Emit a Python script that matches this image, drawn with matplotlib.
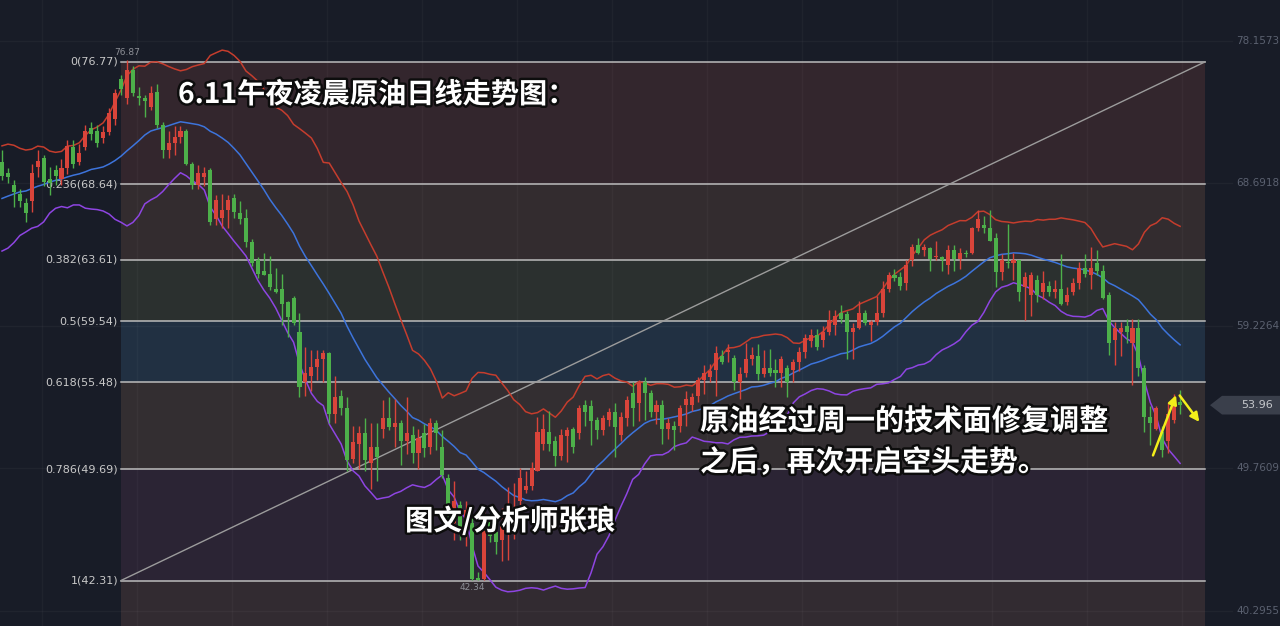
import numpy as np
import pandas as pd
import matplotlib
matplotlib.use("Agg")
import matplotlib.pyplot as plt
import matplotlib.patheffects as pe

plt.rcParams['font.family'] = ['Noto Sans CJK SC', 'DejaVu Sans']

# daily candles, oldest first
opens = [70.1, 69.4, 68.6, 68.0, 67.4, 67.5, 69.8, 70.4, 69.0, 69.6,
         69.0, 69.7, 71.1, 70.1, 71.1, 72.4, 72.2, 71.7, 72.1, 73.0,
         75.6, 74.4, 76.2, 74.5, 74.4, 73.8, 74.8, 72.6, 70.9, 71.4,
         71.8, 72.2, 70.0, 68.6, 69.1, 69.6, 66.3, 66.4, 66.9, 67.7,
         66.7, 66.4, 64.8, 63.6, 62.9, 62.7, 61.7, 61.7, 60.8, 61.1,
         58.8, 55.5, 55.9, 56.5, 57.0, 57.4, 53.4, 54.6, 53.8, 50.4,
         51.4, 52.1, 50.1, 51.2, 52.4, 53.1, 52.5, 52.8, 51.6, 52.0,
         50.8, 52.1, 51.2, 52.8, 51.2, 49.1, 46.1, 47.3, 45.7, 46.1,
         42.5, 42.4, 46.3, 45.5, 45.0, 45.5, 46.3, 47.6, 48.3, 48.6,
         49.6, 51.4, 52.2, 51.6, 50.6, 51.9, 52.4, 52.1, 54.0, 53.9,
         53.0, 52.3, 53.0, 53.5, 52.0, 53.1, 54.8, 54.1, 55.5, 54.8,
         53.5, 54.0, 52.4, 52.6, 52.6, 54.0, 54.0, 54.6, 55.6, 55.8,
         56.3, 57.2, 57.5, 57.1, 55.5, 56.1, 57.0, 57.2, 56.0, 56.4,
         56.3, 56.1, 56.4, 56.3, 56.8, 57.5, 58.2, 58.6, 58.3, 58.8,
         59.3, 60.1, 60.0, 58.8, 59.1, 60.1, 59.3, 59.5, 60.1, 61.7,
         62.6, 62.5, 62.1, 63.6, 64.6, 64.3, 64.4, 63.8, 63.8, 63.3,
         64.3, 63.7, 64.1, 64.1, 65.7, 65.9, 65.7, 65.1, 62.8, 63.5,
         63.4, 63.6, 61.8, 61.3, 62.3, 61.5, 61.9, 61.5, 61.7, 60.8,
         61.5, 62.1, 63.1, 62.6, 63.4, 62.9, 61.3, 58.3, 58.8, 59.2,
         58.1, 59.1, 56.4, 53.2, 52.4, 52.2, 51.6, 53.0, 54.2]
highs = [70.9, 69.7, 68.9, 68.3, 67.7, 70.0, 70.9, 70.6, 69.8, 69.9,
         70.3, 71.6, 71.6, 71.3, 72.6, 72.8, 72.6, 72.5, 73.7, 75.0,
         75.9, 76.87, 76.5, 75.1, 74.6, 75.2, 75.3, 72.8, 72.2, 72.5,
         72.5, 72.3, 70.1, 69.9, 69.8, 69.7, 67.9, 68.0, 67.9, 68.0,
         67.5, 67.0, 65.0, 63.8, 64.1, 63.9, 63.1, 62.7, 60.9, 61.2,
         60.1, 57.8, 57.6, 57.6, 57.6, 57.5, 55.9, 55.0, 54.5, 52.6,
         52.6, 53.1, 52.8, 52.8, 54.3, 54.5, 54.4, 53.0, 54.5, 52.6,
         52.4, 52.7, 53.1, 53.0, 52.3, 49.4, 48.9, 47.6, 47.6, 46.5,
         42.9, 47.0, 46.8, 45.6, 47.1, 48.5, 48.8, 49.8, 49.6, 50.2,
         53.2, 53.4, 53.6, 51.9, 52.4, 52.5, 52.5, 54.0, 54.3, 54.3,
         53.2, 53.3, 53.8, 54.1, 53.5, 54.6, 55.5, 55.6, 55.8, 55.0,
         54.3, 54.3, 53.1, 52.9, 54.0, 54.9, 54.8, 55.8, 56.6, 56.7,
         57.9, 57.6, 58.0, 57.3, 56.5, 58.1, 57.8, 58.0, 57.6, 57.7,
         57.0, 57.2, 56.6, 57.0, 57.8, 58.7, 59.0, 59.0, 59.2, 60.3,
         60.3, 60.6, 60.2, 59.4, 60.9, 60.3, 59.6, 61.2, 62.2, 62.8,
         63.0, 62.8, 63.6, 64.7, 65.1, 64.7, 64.5, 64.9, 63.9, 64.6,
         64.6, 64.4, 64.3, 65.8, 66.9, 66.5, 66.9, 65.4, 64.0, 66.0,
         64.1, 63.6, 62.8, 62.8, 62.6, 62.9, 62.2, 62.3, 64.0, 61.8,
         62.4, 63.5, 64.0, 64.5, 64.3, 63.3, 61.5, 59.5, 59.5, 59.7,
         59.7, 59.7, 56.6, 53.9, 53.9, 52.6, 54.1, 54.7, 55.0]
lows = [68.9, 68.7, 67.1, 67.1, 66.1, 66.8, 69.1, 68.5, 67.9, 68.6,
        68.6, 69.3, 69.7, 69.9, 70.9, 71.6, 71.1, 71.4, 71.9, 72.6,
        74.6, 74.0, 74.5, 73.9, 73.1, 73.6, 72.4, 70.4, 70.4, 70.6,
        71.4, 69.9, 68.3, 68.3, 68.5, 65.9, 65.9, 65.7, 65.7, 66.4,
        66.0, 64.5, 63.2, 62.4, 62.6, 61.6, 61.4, 59.3, 58.5, 59.3,
        54.5, 54.6, 54.9, 55.6, 55.5, 52.8, 52.8, 53.3, 49.6, 50.1,
        49.7, 49.6, 48.4, 48.9, 51.8, 52.3, 51.2, 50.0, 50.7, 50.1,
        49.7, 50.5, 50.7, 51.0, 49.1, 45.8, 45.0, 45.0, 44.6, 42.34,
        42.34, 42.34, 44.9, 44.1, 43.6, 43.7, 45.1, 46.8, 48.1, 48.3,
        49.6, 51.0, 50.9, 49.9, 50.3, 50.2, 50.8, 51.7, 52.6, 51.3,
        51.7, 52.0, 52.6, 50.5, 51.6, 52.6, 52.6, 52.9, 53.0, 53.2,
        52.7, 51.4, 51.7, 51.0, 52.2, 52.6, 53.6, 54.2, 54.7, 55.5,
        54.6, 56.7, 56.8, 55.0, 54.4, 55.8, 56.6, 55.6, 55.8, 55.9,
        55.2, 55.2, 54.5, 55.5, 56.2, 57.1, 57.8, 57.6, 57.8, 58.6,
        58.6, 59.4, 57.0, 57.0, 59.0, 59.3, 58.2, 59.3, 59.8, 61.5,
        62.2, 61.6, 61.6, 63.2, 64.0, 63.9, 62.9, 63.6, 62.9, 62.7,
        62.9, 63.0, 63.8, 64.0, 65.5, 65.4, 64.9, 61.8, 62.3, 63.1,
        62.3, 60.9, 59.6, 59.9, 60.8, 61.0, 61.2, 61.1, 60.6, 60.6,
        61.3, 61.7, 62.5, 61.7, 62.6, 61.0, 57.3, 56.6, 57.2, 58.1,
        55.3, 55.9, 52.2, 51.3, 52.3, 50.5, 50.8, 52.8, 53.4]
closes = [69.2, 69.1, 68.1, 67.5, 66.7, 69.4, 70.2, 68.8, 68.7, 69.2,
          69.7, 71.2, 70.0, 70.7, 72.2, 72.0, 71.4, 72.1, 73.4, 74.7,
          75.0, 76.2, 74.7, 74.4, 74.2, 74.7, 72.6, 70.9, 71.4, 71.8,
          72.2, 70.0, 68.6, 69.4, 69.4, 66.1, 67.6, 66.9, 67.6, 66.8,
          66.3, 64.8, 63.4, 62.7, 62.6, 61.8, 61.5, 60.7, 59.8, 59.4,
          55.2, 56.1, 56.5, 57.0, 57.4, 53.4, 54.5, 53.8, 50.3, 51.5,
          52.1, 50.3, 51.2, 50.5, 53.1, 52.5, 52.8, 51.6, 52.1, 50.8,
          51.8, 51.1, 52.8, 52.1, 49.3, 47.0, 47.6, 45.7, 47.0, 42.4,
          42.36, 45.9, 45.3, 44.9, 45.9, 46.5, 47.0, 49.1, 48.6, 49.8,
          52.2, 52.4, 51.4, 50.6, 52.0, 52.3, 51.2, 53.8, 53.5, 52.9,
          52.3, 53.1, 53.5, 52.5, 53.2, 54.3, 53.8, 55.4, 54.8, 53.5,
          54.0, 52.4, 52.8, 52.3, 53.8, 54.4, 54.5, 55.6, 56.1, 56.2,
          57.4, 56.8, 57.6, 55.5, 56.0, 57.0, 57.3, 56.0, 56.4, 56.1,
          56.1, 57.0, 55.5, 56.8, 57.5, 58.4, 58.6, 57.8, 58.8, 59.6,
          59.9, 59.7, 58.8, 59.1, 60.1, 59.4, 59.5, 60.1, 61.7, 62.6,
          62.4, 61.9, 63.3, 64.5, 64.1, 64.5, 63.7, 63.9, 63.6, 64.3,
          63.7, 64.1, 64.0, 65.7, 66.3, 65.7, 64.9, 62.8, 63.6, 63.4,
          63.6, 61.5, 62.5, 62.6, 61.3, 62.1, 61.5, 61.7, 60.7, 61.3,
          62.1, 63.1, 62.7, 63.1, 62.9, 61.1, 58.1, 59.1, 59.1, 58.8,
          59.1, 56.4, 53.2, 52.8, 53.8, 51.0, 53.4, 54.3, 53.96]
# closes just before the visible window, only used to seed the 20-day bands
pre_close = [66.0, 65.2, 64.8, 65.5, 66.3, 67.0, 66.4, 65.6, 66.8, 67.9,
             68.5, 67.7, 68.9, 69.5, 68.8, 69.9, 70.3, 69.6, 70.0]

fib_ratio = ['0', '0.236', '0.382', '0.5', '0.618', '0.786', '1']
fib_price = [76.77, 68.64, 63.61, 59.54, 55.48, 49.69, 42.31]
axis_ticks = [78.1573, 68.6918, 59.2264, 49.7609, 40.2955]
high_mark = 76.87
low_mark = 42.34

# bollinger bands (20, 2)
s = pd.Series(pre_close + closes)
mid = s.rolling(20).mean()
sd = s.rolling(20).std(ddof=0)
n_pre = len(pre_close)
mid = mid.values[n_pre:]
upper = mid + 2 * sd.values[n_pre:]
lower = mid - 2 * sd.values[n_pre:]

W, H = 1280, 626
step = 5.95  # px per candle
fig = plt.figure(figsize=(W / 100, H / 100), dpi=100)
bg = '#181c27'
fig.patch.set_facecolor(bg)
ax = fig.add_axes([0, 0, 1, 1])
ax.set_facecolor(bg)
ax.set_xlim(-2 / step, (W - 2) / step)
ytop = axis_ticks[0] + 41 / 15.05
ax.set_ylim(ytop - H / 15.05, ytop)
ax.axis('off')


def px(x):
    return (x - 2) / step


x = np.arange(len(closes))
x_fib0 = px(121)
x_fib1 = px(1205)

# fib zones
zone_cols = ['#33262d', '#332c2f', '#2b302f', '#213042', '#332e31', '#2b2434']
for k in range(len(fib_price) - 1):
    ax.fill_between([x_fib0, x_fib1], fib_price[k + 1], fib_price[k],
                    color=zone_cols[k], lw=0, zorder=0)
ax.fill_between([x_fib0, x_fib1], ax.get_ylim()[0], fib_price[-1],
                color='#322b31', lw=0, zorder=0)

# faint grid
for gx in range(42, 1205, 95):
    ax.axvline(px(gx), color='#ffffff', alpha=0.03, lw=1, zorder=1)
for t in axis_ticks:
    ax.plot([px(0), px(1232)], [t, t], color='#ffffff', alpha=0.035, lw=1, zorder=1)
    ax.text(px(1236), t, '%.4f' % t, color='#5b6170', fontsize=7.5,
            va='center', ha='left', family='DejaVu Sans')

# fib lines and labels
for r, p in zip(fib_ratio, fib_price):
    ax.plot([x_fib0, x_fib1], [p, p], color='#bcbcbc', lw=1.1, zorder=2)
    ax.text(px(118), p, '%s(%.2f)' % (r, p), color='#c9c9c9', fontsize=8,
            ha='right', va='center', family='DejaVu Sans')
ax.plot([x_fib0, x_fib1], [fib_price[-1], fib_price[0]], color='#9c9c9c', lw=1, zorder=2)

# bands
ax.plot(x, upper, color='#c53d2d', lw=1.1, zorder=3)
ax.plot(x, mid, color='#3d74dc', lw=1.1, zorder=3)
ax.plot(x, lower, color='#8e45e2', lw=1.1, zorder=3)

# candles: red = up, green = down
o = np.array(opens)
c = np.array(closes)
up = c >= o
cols = np.where(up, '#d9443a', '#4db04a')
ax.vlines(x, lows, highs, colors=cols, lw=1, zorder=4)
body = np.maximum(np.abs(c - o), 0.06)
ax.bar(x, body, bottom=np.minimum(o, c), width=0.68, color=cols, lw=0, zorder=4)

ax.text(21, high_mark + 0.2, '%.2f' % high_mark, color='#8d8f96', fontsize=6.5,
        ha='center', va='bottom', family='DejaVu Sans')
ax.text(79, low_mark - 0.2, '%.2f' % low_mark, color='#8d8f96', fontsize=6.5,
        ha='center', va='top', family='DejaVu Sans')

# last price tag
last = closes[-1]
ty = [last - 0.62, last + 0.62]
ax.fill([px(1222), px(1210), px(1222), px(1280), px(1280)],
        [ty[0], last, ty[1], ty[1], ty[0]], color='#3a3f4b', lw=0, zorder=5)
ax.text(px(1257), last, '%.2f' % last, color='#c6c8cc', fontsize=8,
        ha='center', va='center', family='DejaVu Sans', zorder=6)

# yellow arrows
ax.annotate('', xy=(px(1177), 54.8), xytext=(px(1152), 50.45),
            arrowprops=dict(arrowstyle='-|>', color='#f2ee1a', lw=1.8,
                            mutation_scale=13), zorder=6)
ax.annotate('', xy=(px(1201), 52.7), xytext=(px(1178), 54.75),
            arrowprops=dict(arrowstyle='-|>', color='#f2ee1a', lw=1.8,
                            mutation_scale=13), zorder=6)

# annotation texts
fx = [pe.withStroke(linewidth=3.5, foreground='#0d0d0d')]
fig.text(178 / W, 1 - 95 / H, '6.11午夜凌晨原油日线走势图：', color='white',
         fontsize=20.3, fontweight='bold', va='center', ha='left', path_effects=fx)
fig.text(700 / W, 1 - 421 / H, '原油经过周一的技术面修复调整', color='white',
         fontsize=21, fontweight='bold', va='center', ha='left', path_effects=fx)
fig.text(700 / W, 1 - 462 / H, '之后，再次开启空头走势。', color='white',
         fontsize=20.8, fontweight='bold', va='center', ha='left', path_effects=fx)
fig.text(405 / W, 1 - 521 / H, '图文/分析师张琅', color='white',
         fontsize=20.5, fontweight='bold', va='center', ha='left', path_effects=fx)

fig.savefig('out.png', dpi=100, facecolor=bg)
